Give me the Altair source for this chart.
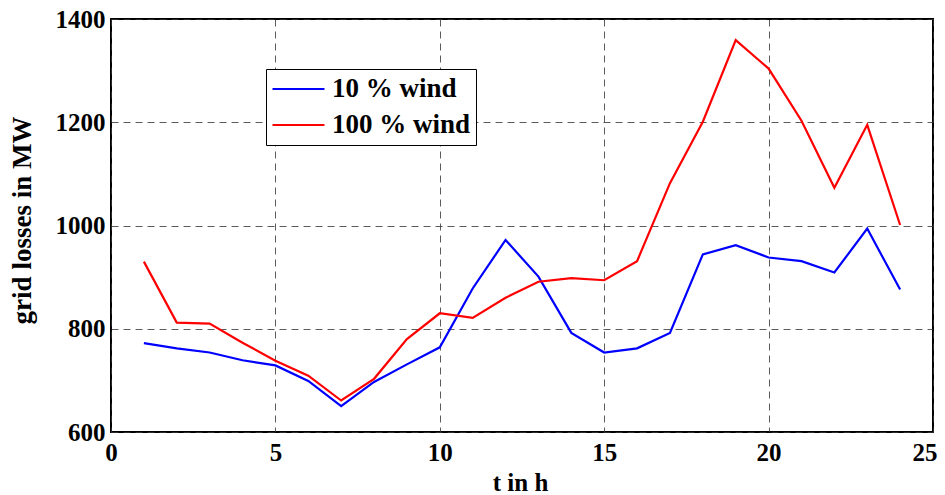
import altair as alt
import pandas as pd

hours = list(range(1, 25))
wind10 = [772, 762, 754, 739, 729, 699, 650, 697, 731, 764, 878, 972,
          901, 792, 754, 762, 792, 944, 962, 938, 931, 909, 994, 876]
wind100 = [930, 812, 810, 773, 738, 709, 661, 703, 780, 830, 821, 860,
           891, 898, 894, 931, 1082, 1201, 1359, 1304, 1203, 1073, 1195, 1001]
series_names = ["10 % wind", "100 % wind"]
series_colors = ["#0000ff", "#ff0000"]
x_ticks = [0, 5, 10, 15, 20, 25]
y_ticks = [600, 800, 1000, 1200, 1400]

rows = []
for t, a, b in zip(hours, wind10, wind100):
    rows.append({"t": t, "loss": a, "series": series_names[0]})
    rows.append({"t": t, "loss": b, "series": series_names[1]})
df = pd.DataFrame(rows)

FONT = "Liberation Serif"

chart = alt.Chart(df).mark_line(strokeWidth=2.2).encode(
    x=alt.X("t:Q", scale=alt.Scale(domain=[0, 25], nice=False),
            axis=alt.Axis(values=x_ticks, title="t in h", format="d",
                          titleX=409, titleY=58, labelFlush=False,
                          labelAlign={"condition": {"test": "datum.value >= 25", "value": "right"},
                                      "value": "center"},
                          labelOffset={"condition": {"test": "datum.value >= 25", "value": 4},
                                       "value": 0})),
    y=alt.Y("loss:Q", scale=alt.Scale(domain=[600, 1400], nice=False, zero=False),
            axis=alt.Axis(values=y_ticks, title="grid losses in MW", format="d",
                          titleX=-75, titleY=201, titleFontSize=27, labelFlush=False)),
    color=alt.Color("series:N",
                    scale=alt.Scale(domain=series_names, range=series_colors),
                    legend=alt.Legend(title=None, orient="none", legendX=155, legendY=50)),
).properties(
    width=822, height=413,
    autosize=alt.AutoSizeParams(type="none"),
    padding={"left": 103, "top": 11, "right": 4, "bottom": 70},
).configure_view(
    stroke="black", strokeWidth=2
).configure_axis(
    labelFont=FONT, labelFontSize=25, labelFontWeight="bold", labelColor="black",
    titleFont=FONT, titleFontSize=25, titleFontWeight="bold", titleColor="black",
    ticks=False, domain=False,
    grid=True, gridColor="#333333", gridDash=[7, 5], gridWidth=1, gridOpacity=0.8,
    labelPadding=8,
).configure_axisX(
    labelPadding=8, titleBaseline="alphabetic"
).configure_axisY(
    labelPadding=6
).configure_legend(
    strokeColor="black", fillColor="white", padding=5,
    labelFont=FONT, labelFontSize=27, labelFontWeight="bold", labelColor="black",
    symbolType="stroke", symbolStrokeWidth=2.2, symbolSize=2700,
    clipHeight=30, rowPadding=6, labelOffset=6, cornerRadius=0,
)

chart.save("out.html", embed_options={"renderer": "svg", "actions": False})
